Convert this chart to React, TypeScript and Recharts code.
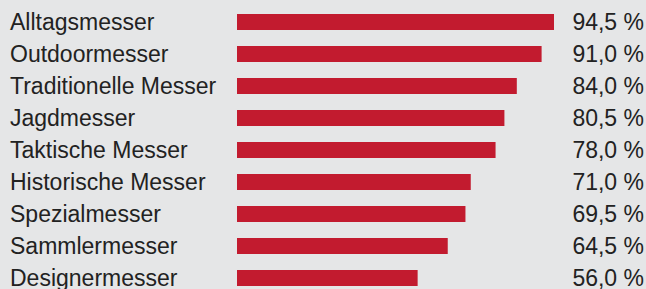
import React from 'react';
import { BarChart, Bar, XAxis, YAxis, LabelList } from 'recharts';

const categories = [
  'Alltagsmesser',
  'Outdoormesser',
  'Traditionelle Messer',
  'Jagdmesser',
  'Taktische Messer',
  'Historische Messer',
  'Spezialmesser',
  'Sammlermesser',
  'Designermesser'
];
const values = [94.5, 91.0, 84.0, 80.5, 78.0, 71.0, 69.5, 64.5, 56.0];

const data = categories.map((name, i) => ({ name, value: values[i] }));

const FONT = '"Liberation Sans", Arial, Helvetica, sans-serif';

// category names drawn left-aligned at the page edge
const CategoryTick = (props: any) => {
  const { y, payload } = props;
  return <text x={10} y={y + 7.5} textAnchor="start" fill="#222" fontSize={23} fontFamily={FONT}>
      {payload.value}
    </text>;
};

// percentage values right-aligned at the far right
const ValueLabel = (props: any) => {
  const { y, height, value } = props;
  const cy = y + height / 2;
  return <text x={644} y={cy + 7.5} textAnchor="end" fill="#222" fontSize={23} fontFamily={FONT}>
      {value.toFixed(1).replace('.', ',')} %
    </text>;
};

export default function App() {
  return <div style={{ position: 'absolute', left: 0, top: 0, width: 646, height: 289, overflow: 'hidden', background: '#e5e6e7' }}>
      <BarChart width={646} height={296} data={data} layout="vertical" margin={{ top: 6, right: 92, bottom: 2, left: 0 }}>
        <XAxis type="number" hide domain={[5, 94.5]} />
        <YAxis type="category" dataKey="name" width={237} axisLine={false} tickLine={false} tick={<CategoryTick />} />
        <Bar dataKey="value" fill="#c21b2f" barSize={16} isAnimationActive={false}>
          <LabelList dataKey="value" content={<ValueLabel />} />
        </Bar>
      </BarChart>
    </div>;
}
